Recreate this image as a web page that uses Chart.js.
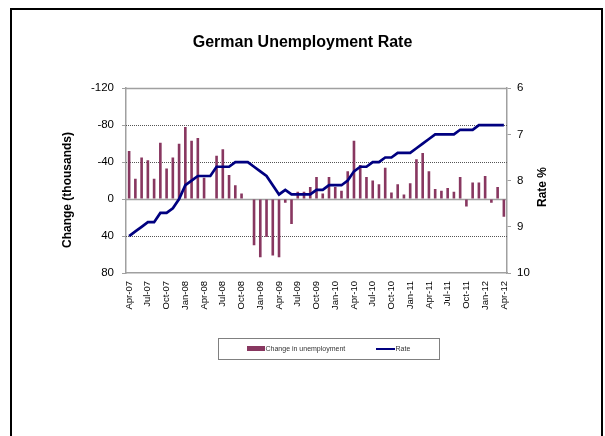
<!DOCTYPE html>
<html>
<head>
<meta charset="utf-8">
<script src="https://cdn.jsdelivr.net/npm/chart.js@4.4.0/dist/chart.umd.min.js"></script>
<style>
  html, body { margin: 0; padding: 0; background: #fff; }
  #wrap { position: relative; width: 605px; height: 436px; overflow: hidden; }
  #frame { position: absolute; left: 10px; top: 8px; width: 589px; height: 440px;
           border: 2px solid #000; border-bottom: none; pointer-events: none; }
</style>
</head>
<body>
<div id="wrap">
  <canvas id="chart" width="605" height="436"></canvas>
  <div id="frame"></div>
</div>
<script>
const months = [
  "Apr-07","May-07","Jun-07","Jul-07","Aug-07","Sep-07","Oct-07","Nov-07","Dec-07",
  "Jan-08","Feb-08","Mar-08","Apr-08","May-08","Jun-08","Jul-08","Aug-08","Sep-08","Oct-08","Nov-08","Dec-08",
  "Jan-09","Feb-09","Mar-09","Apr-09","May-09","Jun-09","Jul-09","Aug-09","Sep-09","Oct-09","Nov-09","Dec-09",
  "Jan-10","Feb-10","Mar-10","Apr-10","May-10","Jun-10","Jul-10","Aug-10","Sep-10","Oct-10","Nov-10","Dec-10",
  "Jan-11","Feb-11","Mar-11","Apr-11","May-11","Jun-11","Jul-11","Aug-11","Sep-11","Oct-11","Nov-11","Dec-11",
  "Jan-12","Feb-12","Mar-12","Apr-12"
];

// monthly change in unemployed persons, thousands
const change = [
  -52, -22, -45, -42, -22, -61, -33, -45, -60,
  -78, -63, -66, -23, 0, -47, -54, -26, -15, -6, 0, 50,
  63, 41, 61, 63, 4, 27, -8, -8, -13, -24, -6, -24,
  -13, -9, -30, -63, -37, -24, -20, -16, -34, -7, -16, -5,
  -17, -43, -50, -30, -11, -9, -12, -8, -24, 8, -18, -18,
  -25, 4, -13, 19
];

// unemployment rate, %
const rate = [
  9.2, 9.1, 9.0, 8.9, 8.9, 8.7, 8.7, 8.6, 8.4,
  8.1, 8.0, 7.9, 7.9, 7.9, 7.7, 7.7, 7.7, 7.6, 7.6, 7.6, 7.7,
  7.8, 7.9, 8.1, 8.3, 8.2, 8.3, 8.3, 8.3, 8.3, 8.2, 8.2, 8.1,
  8.1, 8.1, 8.0, 7.8, 7.7, 7.7, 7.6, 7.6, 7.5, 7.5, 7.4, 7.4,
  7.4, 7.3, 7.2, 7.1, 7.0, 7.0, 7.0, 7.0, 6.9, 6.9, 6.9, 6.8,
  6.8, 6.8, 6.8, 6.8
];

const barColor = "#883760";
const lineColor = "#000080";
const axisGray = "#a0a0a0";
const fontFamily = '"Liberation Sans", Arial, sans-serif';

Chart.defaults.font.family = fontFamily;
Chart.defaults.color = "#000";

function verticalText(ctx, text, x, y) {
  ctx.save();
  ctx.translate(x, y);
  ctx.rotate(-Math.PI / 2);
  ctx.font = "bold 12px " + fontFamily;
  ctx.fillStyle = "#000";
  ctx.textAlign = "center";
  ctx.textBaseline = "middle";
  ctx.fillText(text, 0, 0);
  ctx.restore();
}

// horizontal reference lines, axis titles and the boxed legend
const extras = {
  id: "extras",
  beforeDatasetsDraw(chart) {
    const { ctx, chartArea, scales } = chart;
    ctx.save();
    scales.y.ticks.forEach(t => {
      if (t.value === 80) return;
      const y = Math.round(scales.y.getPixelForValue(t.value)) + 0.5;
      ctx.beginPath();
      if (t.value === 0 || t.value === -120) {
        ctx.setLineDash([]);
        ctx.strokeStyle = axisGray;
        ctx.lineWidth = 1.5;
      } else {
        ctx.setLineDash([1, 1]);
        ctx.strokeStyle = "#555";
        ctx.lineWidth = 1;
      }
      ctx.moveTo(chartArea.left, y);
      ctx.lineTo(chartArea.right, y);
      ctx.stroke();
    });
    ctx.restore();
  },
  afterDraw(chart) {
    const { ctx } = chart;
    verticalText(ctx, "Change (thousands)", 68, 190);
    verticalText(ctx, "Rate %", 543, 187);

    // legend
    ctx.save();
    ctx.strokeStyle = "#808080";
    ctx.lineWidth = 1;
    ctx.strokeRect(218.5, 338.5, 221, 21);
    ctx.fillStyle = barColor;
    ctx.fillRect(247, 346, 18, 5);
    ctx.strokeStyle = lineColor;
    ctx.lineWidth = 2;
    ctx.beginPath();
    ctx.moveTo(376, 349);
    ctx.lineTo(395, 349);
    ctx.stroke();
    ctx.font = "7px " + fontFamily;
    ctx.fillStyle = "#333";
    ctx.textBaseline = "middle";
    ctx.fillText(chart.data.datasets[0].label, 265.5, 349);
    ctx.fillText(chart.data.datasets[1].label, 395.5, 349);
    ctx.restore();
  }
};

new Chart(document.getElementById("chart"), {
  type: "bar",
  data: {
    labels: months,
    datasets: [
      {
        label: "Change in unemployment",
        data: change,
        yAxisID: "y",
        backgroundColor: barColor,
        barPercentage: 0.42,
        categoryPercentage: 1,
        order: 2
      },
      {
        type: "line",
        label: "Rate",
        data: rate,
        yAxisID: "y1",
        borderColor: lineColor,
        borderWidth: 2.7,
        pointRadius: 0,
        tension: 0,
        order: 1
      }
    ]
  },
  options: {
    responsive: false,
    animation: false,
    devicePixelRatio: 1,
    layout: { padding: 0 },
    plugins: {
      legend: { display: false },
      tooltip: { enabled: false },
      title: {
        display: true,
        text: "German Unemployment Rate",
        font: { size: 16, weight: "bold" },
        color: "#000",
        padding: { top: 33, bottom: 36 }
      }
    },
    scales: {
      x: {
        offset: true,
        grid: { display: false },
        border: { color: axisGray, width: 1.5 },
        ticks: {
          autoSkip: false,
          minRotation: 90,
          maxRotation: 90,
          padding: 0,
          font: { size: 9.5 },
          callback: function (v, i) {
            return i % 3 === 0 ? this.getLabelForValue(v) : null;
          }
        },
        afterFit: s => { s.height = 163; }
      },
      y: {
        position: "left",
        reverse: true,
        min: -120,
        max: 80,
        ticks: { stepSize: 40, padding: 8, font: { size: 11.5 } },
        grid: { drawOnChartArea: false, tickLength: 4, color: axisGray },
        border: { color: axisGray, width: 1.5 },
        afterFit: s => { s.width = 126; }
      },
      y1: {
        position: "right",
        reverse: true,
        min: 6,
        max: 10,
        ticks: { stepSize: 1, padding: 6, font: { size: 11.5 } },
        grid: { drawOnChartArea: false, tickLength: 4, color: axisGray },
        border: { color: axisGray, width: 1.5 },
        afterFit: s => { s.width = 98; }
      }
    }
  },
  plugins: [extras]
});
</script>
</body>
</html>
